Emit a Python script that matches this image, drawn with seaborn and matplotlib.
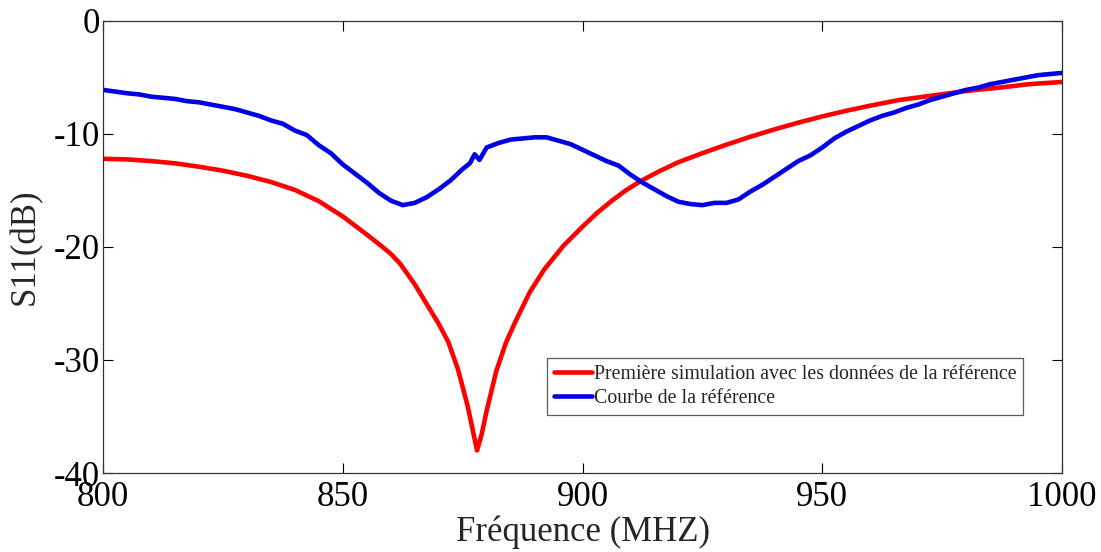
import numpy as np
import pandas as pd
import seaborn as sns
import matplotlib.pyplot as plt

# frequency (MHz) / S11 (dB)
freq_sim = [800, 805, 810, 815, 820, 825, 830, 835, 840, 845, 850, 855, 858,
            860, 862, 865, 868, 870, 872, 874, 876, 877, 878, 879, 880, 882,
            884, 886, 889, 892, 896, 900, 903, 906, 909, 912, 916, 920, 925,
            930, 935, 940, 945, 950, 955, 960, 966, 973, 980, 987, 993, 1000]
s11_sim = [-12.2, -12.25, -12.4, -12.6, -12.9, -13.25, -13.7, -14.25, -14.95,
           -15.95, -17.3, -18.9, -19.9, -20.6, -21.5, -23.3, -25.4, -26.8,
           -28.4, -30.8, -34.0, -36.0, -38.0, -36.5, -34.5, -31.0, -28.5,
           -26.6, -24.0, -22.0, -19.9, -18.2, -17.0, -15.95, -15.0, -14.2,
           -13.3, -12.5, -11.7, -10.95, -10.25, -9.6, -9.0, -8.45, -7.95,
           -7.5, -7.0, -6.6, -6.2, -5.9, -5.6, -5.4]

freq_ref = [800, 802.5, 805, 807.5, 810, 812.5, 815, 817.5, 820, 822.5, 825,
            827.5, 830, 832.5, 835, 837.5, 840, 842.5, 845, 847.5, 850, 852.5,
            855, 857.5, 860, 862.5, 865, 867.5, 870, 872.5, 875, 876.5, 877.5,
            878.5, 880, 882.5, 885, 887.5, 890, 892.5, 895, 897.5, 900, 902.5,
            905, 907.5, 910, 912.5, 915, 917.5, 920, 922.5, 925, 927.5, 930,
            932.5, 935, 937.5, 940, 942.5, 945, 947.5, 950, 952.5, 955, 957.5,
            960, 962.5, 965, 967.5, 970, 972.5, 975, 977.5, 980, 982.5, 985,
            987.5, 990, 992.5, 995, 997.5, 1000]
s11_ref = [-6.1, -6.25, -6.4, -6.5, -6.7, -6.8, -6.9, -7.1, -7.2, -7.4, -7.6,
           -7.8, -8.1, -8.4, -8.8, -9.1, -9.7, -10.1, -11.0, -11.7, -12.7,
           -13.5, -14.3, -15.2, -15.9, -16.3, -16.1, -15.6, -14.9, -14.1,
           -13.1, -12.6, -11.8, -12.3, -11.2, -10.8, -10.5, -10.4, -10.3,
           -10.3, -10.6, -10.9, -11.4, -11.9, -12.4, -12.8, -13.6, -14.3,
           -14.9, -15.5, -16.0, -16.2, -16.3, -16.1, -16.1, -15.8, -15.1,
           -14.5, -13.8, -13.1, -12.4, -11.9, -11.2, -10.4, -9.8, -9.3, -8.8,
           -8.4, -8.1, -7.7, -7.4, -7.0, -6.7, -6.4, -6.1, -5.9, -5.6, -5.4,
           -5.2, -5.0, -4.8, -4.7, -4.6]

LABELS = ('Première simulation avec les données de la référence',
          'Courbe de la référence')

sim = pd.DataFrame({'f': freq_sim, 's11': s11_sim, 'curve': LABELS[0]})
ref = pd.DataFrame({'f': freq_ref, 's11': s11_ref, 'curve': LABELS[1]})
df = pd.concat([sim, ref], ignore_index=True)

sns.set_style('ticks')
plt.rcParams['font.family'] = ['Liberation Serif', 'DejaVu Serif']
plt.rcParams['axes.unicode_minus'] = False

fig = plt.figure(figsize=(11.01, 5.52), dpi=100)
ax = fig.add_axes([0.0936, 0.1431, 0.871, 0.819])

sns.lineplot(data=df, x='f', y='s11', hue='curve', ax=ax,
             palette={LABELS[0]: '#ff0000', LABELS[1]: '#0000e6'},
             linewidth=3.3, sort=True, estimator=None)

ax.set_xlim(800, 1000)
ax.set_ylim(-40, 0)
ax.set_xticks([800, 850, 900, 950, 1000])
ax.set_yticks([-40, -30, -20, -10, 0])
ax.tick_params(direction='in', length=7, width=0.8, top=True, right=True,
               labelsize=25, colors='black')
ax.tick_params(axis='x', pad=6)
ax.tick_params(axis='y', pad=2)
for s in ax.spines.values():
    s.set_linewidth(0.9)
    s.set_color('#333333')

ax.set_xlabel('Fréquence (MHZ)', fontsize=25, labelpad=1)
ax.set_ylabel('S11(dB)', fontsize=25, labelpad=9)

leg = ax.legend(loc='upper left', bbox_to_anchor=(0.463, 0.254),
                borderaxespad=0, fontsize=14.3, frameon=True, fancybox=False,
                handlelength=1.9, handletextpad=0.1, labelspacing=0.25,
                borderpad=0.35)
leg.get_frame().set_edgecolor('#333333')
leg.get_frame().set_linewidth(0.9)

fig.savefig('out.png', dpi=100)
